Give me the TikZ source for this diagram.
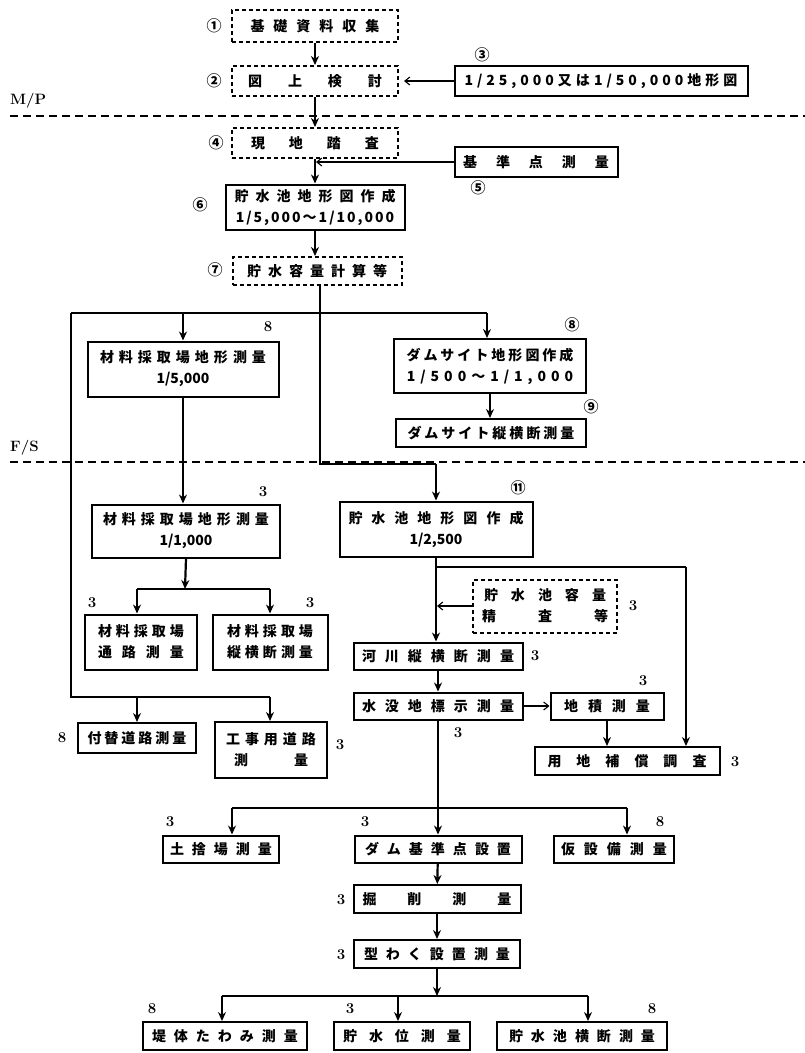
\documentclass[tikz,border=0pt]{standalone}
\usepackage{fontspec}
\newfontfamily\jp{Noto Sans CJK JP}
\usetikzlibrary{arrows.meta}
\makeatletter
\newcommand\spc[2]{\def\spc@gap{\hspace{#1pt}}\spc@a#2\@nil}
\def\spc@a#1#2\@nil{#1\ifx\relax#2\relax\else\spc@gap\spc@a#2\@nil\fi}
\makeatother
\begin{document}
\begin{tikzpicture}[x=1pt,y=-1pt,
  box/.style={draw, line width=2pt, inner sep=1pt, align=center,
    font=\jp\bfseries\fontsize{14}{21}\selectfont},
  dbox/.style={box, dash pattern=on 4pt off 3pt},
  num/.style={font=\jp\bfseries\fontsize{15}{15}\selectfont, inner sep=0pt},
  lab/.style={font=\bfseries\fontsize{15}{15}\selectfont, inner sep=0pt},
  ln/.style={line width=2.2pt},
  arr/.style={ln, -{Stealth[length=9pt,width=8pt]}},
  tarr/.style={line width=1.1pt, -{Straight Barb[length=5pt,width=8pt]}},
  sep/.style={line width=1.2pt, dash pattern=on 8pt off 5pt}]
\useasboundingbox (0,0) rectangle (805,1053);
\fill[white] (0,0) rectangle (805,1053);

% separators
\coordinate (s1a) at (10,116); \coordinate (s1b) at (805,116);
\coordinate (s2a) at (10,462); \coordinate (s2b) at (805,462);
\draw[sep] (s1a) -- (s1b);
\draw[sep] (s2a) -- (s2b);
\node[lab, anchor=west] (mp) at (10,101) {M/P};
\node[lab, anchor=west] (fs) at (10,448) {F/S};

% nodes
\node[dbox, minimum width=166, minimum height=32] (n1) at (315,26) {\spc{9}{基礎資料収集}};
\node[dbox, minimum width=166, minimum height=30] (n2) at (315,81) {\spc{26}{図上検討}};
\node[box, minimum width=293, minimum height=30] (n3) at (601,81) {\spc{4}{1/25,000又は1/50,000地形図}};
\node[dbox, minimum width=166, minimum height=30] (n4) at (315,143) {\spc{24}{現地踏査}};
\node[box, minimum width=163, minimum height=30] (n5) at (536,162) {\spc{19}{基準点測量}};
\node[box, minimum width=179, minimum height=45] (n6) at (315,207) {\spc{7}{貯水池地形図作成}\\\spc{2}{1/5,000～1/10,000}};
\node[dbox, minimum width=169, minimum height=28] (n7) at (317,271) {\spc{7}{貯水容量計算等}};
\node[box, minimum width=191, minimum height=55] (n8) at (183,369) {\spc{5}{材料採取場地形測量}\\1/5,000};
\node[box, minimum width=192, minimum height=54] (n9) at (490,366) {\spc{3}{ダムサイト地形図作成}\\\spc{5}{1/500～1/1,000}};
\node[box, minimum width=190, minimum height=28] (n10) at (491,433) {\spc{3}{ダムサイト縦横断測量}};
\node[box, minimum width=188, minimum height=53] (n11) at (186,531) {\spc{5}{材料採取場地形測量}\\1/1,000};
\node[box, minimum width=193, minimum height=55] (n12) at (436,529) {\spc{9}{貯水池地形図作成}\\1/2,500};
\node[box, minimum width=112, minimum height=55] (n13) at (141,642) {\spc{4}{材料採取場}\\\spc{10}{通路測量}};
\node[box, minimum width=115, minimum height=55] (n14) at (270,642) {\spc{4}{材料採取場}\\\spc{4}{縦横断測量}};
\node[dbox, minimum width=144, minimum height=53] (n15) at (545,606) {\spc{13}{貯水池容量}\\\spc{42}{精査等}};
\node[box, minimum width=169, minimum height=27] (n16) at (438,656) {\spc{9}{河川縦横断測量}};
\node[box, minimum width=169, minimum height=27] (n17) at (438,706) {\spc{9}{水没地標示測量}};
\node[box, minimum width=113, minimum height=27] (n18) at (607,706) {\spc{10}{地積測量}};
\node[box, minimum width=185, minimum height=28] (n19) at (627,761) {\spc{15}{用地補償調査}};
\node[box, minimum width=118, minimum height=30] (n20) at (137,738) {\spc{3}{付替道路測量}};
\node[box, minimum width=112, minimum height=56] (n21) at (271,750) {\spc{5}{工事用道路}\\\spc{46}{測量}};
\node[box, minimum width=116, minimum height=27] (n22) at (221,849) {\spc{8}{土捨場測量}};
\node[box, minimum width=167, minimum height=27] (n23) at (438,849) {\spc{8}{ダム基準点設置}};
\node[box, minimum width=120, minimum height=27] (n24) at (614,849) {\spc{9}{仮設備測量}};
\node[box, minimum width=167, minimum height=28] (n25) at (437,899) {\spc{31}{掘削測量}};
\node[box, minimum width=166, minimum height=28] (n26) at (437,954) {\spc{8}{型わく設置測量}};
\node[box, minimum width=164, minimum height=28] (n27) at (225,1036) {\spc{8}{堤体たわみ測量}};
\node[box, minimum width=136, minimum height=28] (n28) at (402,1036) {\spc{12}{貯水位測量}};
\node[box, minimum width=170, minimum height=28] (n29) at (582,1036) {\spc{8}{貯水池横断測量}};

% number labels
\node[num] (l1) at (214,26) {①};
\node[num] (l2) at (214,81) {②};
\node[num] (l3) at (482,55) {③};
\node[num] (l4) at (216,143) {④};
\node[num] (l5) at (478,188) {⑤};
\node[num] (l6) at (200,205) {⑥};
\node[num] (l7) at (215,270) {⑦};
\node[lab] (l8) at (268,327) {8};
\node[num] (l9) at (572,325) {⑧};
\node[num] (l10) at (591,407) {⑨};
\node[lab] (l11) at (263,492) {3};
\node[num] (l12) at (518,488) {⑪};
\node[lab] (l13) at (92,603) {3};
\node[lab] (l14) at (310,603) {3};
\node[lab] (l15) at (633,606) {3};
\node[lab] (l16) at (535,656) {3};
\node[lab] (l17) at (458,733) {3};
\node[lab] (l18) at (643,681) {3};
\node[lab] (l19) at (735,762) {3};
\node[lab] (l20) at (62,738) {8};
\node[lab] (l21) at (340,745) {3};
\node[lab] (l22) at (170,822) {3};
\node[lab] (l23) at (365,822) {3};
\node[lab] (l24) at (660,822) {8};
\node[lab] (l25) at (341,900) {3};
\node[lab] (l26) at (341,955) {3};
\node[lab] (l27) at (152,1009) {8};
\node[lab] (l28) at (350,1009) {3};
\node[lab] (l29) at (652,1009) {8};

% connectors
\draw[arr] (n1) -- (n2);
\draw[tarr, shorten >=5pt] (n3) -- (n2);
\draw[arr] (n2) -- (n4);
\draw[arr] (n4.south) -- (n4.south |- n6.north);
\coordinate (j5) at (n4.south |- n5.west);
\draw[tarr, shorten >=1pt] (n5.west) -- (j5);
\draw[arr] (n6.south) -- (n6.south |- n7.north);

\coordinate (cA) at (320,313);
\coordinate (cB) at (320,464);
\coordinate (cC) at (436,464);
\draw[ln] (n7.south -| cA) -- (cB) -- (cC);
\draw[arr] (cC) -- (n12.north);

\coordinate (bL) at (71,313);
\coordinate (bR) at (487,313);
\coordinate (bL2) at (71,697);
\coordinate (bR2) at (270,697);
\draw[ln] (bL) -- (bR);
\draw[arr] (n8.north |- bL) -- (n8.north);
\draw[arr] (bR) -- (bR |- n9.north);
\draw[ln] (bL) -- (bL2) -- (bR2);
\draw[arr] (n20.north |- bL2) -- (n20.north);
\draw[arr] (bR2) -- (bR2 |- n21.north);

\draw[arr] (n8.south) -- (n8.south |- n11.north);
\draw[arr] (n9.south) -- (n9.south |- n10.north);

\coordinate (j11) at (185,589);
\coordinate (j11a) at (137,589);
\coordinate (j11b) at (270,589);
\draw[arr] (n11.south) -- (j11);
\draw[ln] (j11a) -- (j11b);
\draw[arr] (j11a) -- (j11a |- n13.north);
\draw[arr] (j11b) -- (j11b |- n14.north);

\draw[arr] (n12.south) -- (n12.south |- n16.north);
\coordinate (cD) at (436,567);
\coordinate (cE) at (686,567);
\draw[ln] (cD) -- (cE);
\draw[arr] (cE) -- (cE |- n19.north);
\draw[tarr, shorten >=1pt] (n15.west) -- (n12.south |- n15.west);
\draw[arr] (n16) -- (n17);
\draw[tarr] (n17) -- (n18);
\draw[arr] (n18.south) -- (n18.south |- n19.north);

\coordinate (j17a) at (232,808);
\coordinate (j17b) at (627,808);
\draw[arr] (n17.south) -- (n17.south |- n23.north);
\draw[ln] (j17a) -- (j17b);
\draw[arr] (j17a) -- (j17a |- n22.north);
\draw[arr] (j17b) -- (j17b |- n24.north);
\draw[arr] (n23) -- (n25);
\draw[arr] (n25) -- (n26);

\coordinate (j26) at (437,996);
\coordinate (j26a) at (222,996);
\coordinate (j26m) at (398,996);
\coordinate (j26b) at (588,996);
\draw[arr] (n26.south) -- (j26);
\draw[ln] (j26a) -- (j26b);
\draw[arr] (j26a) -- (j26a |- n27.north);
\draw[arr] (j26m) -- (j26m |- n28.north);
\draw[arr] (j26b) -- (j26b |- n29.north);
\end{tikzpicture}
\end{document}
